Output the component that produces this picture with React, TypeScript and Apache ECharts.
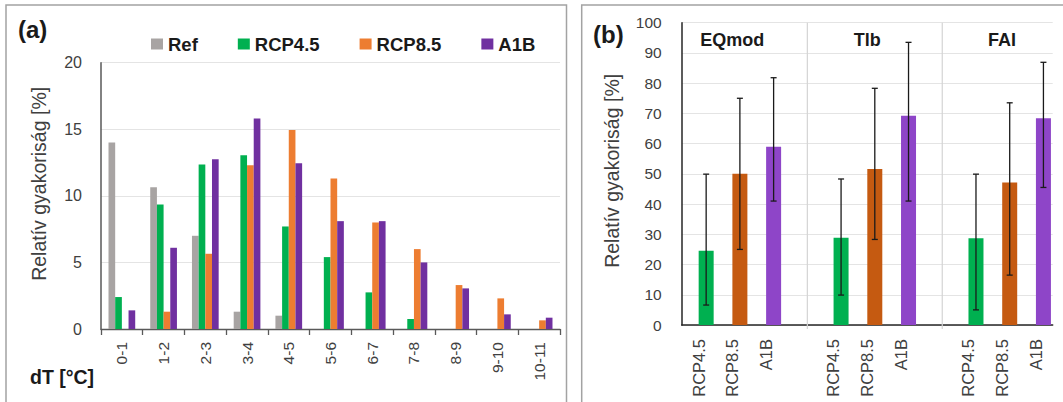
import React, { useEffect, useRef } from 'react';
import * as echarts from 'echarts';

// ---------- Panel (a) data ----------
const dTCategories = ['0-1', '1-2', '2-3', '3-4', '4-5', '5-6', '6-7', '7-8', '8-9', '9-10', '10-11'];
const refValues = [14.0, 10.65, 7.0, 1.3, 1.0, 0, 0, 0, 0, 0, 0];
const rcp45Values = [2.4, 9.35, 12.35, 13.05, 7.7, 5.4, 2.75, 0.75, 0, 0, 0];
const rcp85Values = [0, 1.3, 5.65, 12.3, 14.95, 11.3, 8.0, 6.0, 3.3, 2.3, 0.65];
const a1bValues = [1.4, 6.1, 12.75, 15.8, 12.45, 8.1, 8.1, 5.0, 3.05, 1.1, 0.85];
const leftSeriesNames = ['Ref', 'RCP4.5', 'RCP8.5', 'A1B'];
const leftAxisMin = 0;
const leftAxisMax = 20;
const leftAxisStep = 5;

// ---------- Panel (b) data ----------
const indexGroups = ['EQmod', 'Tlb', 'FAI'];
const scenarios = ['RCP4.5', 'RCP8.5', 'A1B'];
const meanRCP45 = [24.6, 28.9, 28.7];
const meanRCP85 = [50.0, 51.6, 47.1];
const meanA1B = [59.0, 69.2, 68.4];
const lowRCP45 = [6.6, 9.9, 5.0];
const highRCP45 = [49.9, 48.3, 49.9];
const lowRCP85 = [25.0, 28.3, 16.5];
const highRCP85 = [75.0, 78.3, 73.5];
const lowA1B = [41.0, 41.0, 45.5];
const highA1B = [81.8, 93.5, 86.9];
const rightAxisMin = 0;
const rightAxisMax = 100;
const rightAxisStep = 10;

// ---------- styles ----------
const FONT = 'Liberation Sans, Arial, sans-serif';
const leftColors = ['#a8a4a3', '#00b050', '#ed7d31', '#7030a0'];
const rightColors = ['#00b050', '#c55a11', '#8e45c8'];
const RIGHT_BAR_W = 15;
const RIGHT_BAR_GAP = 0.013;
const SHIFT = (RIGHT_BAR_W * (1 + RIGHT_BAR_GAP)) / 2;

// build slot layout for panel (b): 3 scenarios per group, one blank slot between groups
const slotLabels: string[] = [];
const groupLabels: string[] = [];
const slotOf: number[][] = [];
indexGroups.forEach((g, gi) => {
  slotOf.push([]);
  scenarios.forEach((s, si) => {
    slotOf[gi].push(slotLabels.length);
    slotLabels.push(s);
    groupLabels.push(si === 1 ? g : '');
  });
  if (gi < indexGroups.length - 1) {
    slotLabels.push('');
    groupLabels.push('');
  }
});
const separatorSlots = indexGroups.slice(0, -1).map((_, gi) => [slotOf[gi][2] + 1]);

const means = [meanRCP45, meanRCP85, meanA1B];
const lows = [lowRCP45, lowRCP85, lowA1B];
const highs = [highRCP45, highRCP85, highA1B];

const rightBarSeries = scenarios.map((s, si) => {
  const data: (number | string)[] = slotLabels.map(() => '-');
  indexGroups.forEach((_, gi) => {
    data[slotOf[gi][si]] = means[si][gi];
  });
  return {
    name: 'b ' + s,
    type: 'bar',
    xAxisIndex: 1,
    yAxisIndex: 1,
    stack: 'b',
    barWidth: RIGHT_BAR_W,
    barGap: (RIGHT_BAR_GAP * 100).toFixed(1) + '%',
    itemStyle: { color: rightColors[si] },
    data,
  };
});

const errorData: number[][] = [];
scenarios.forEach((_, si) => {
  indexGroups.forEach((__, gi) => {
    errorData.push([slotOf[gi][si], lows[si][gi], highs[si][gi]]);
  });
});

const leftValues = [refValues, rcp45Values, rcp85Values, a1bValues];

const axisLabelBase = { fontFamily: FONT, color: '#404040' };

const option: any = {
  animation: false,
  backgroundColor: '#ffffff',
  textStyle: { fontFamily: FONT },
  legend: {
    data: leftSeriesNames,
    left: 146,
    top: 29,
    itemWidth: 12,
    itemHeight: 11,
    itemGap: 40,
    icon: 'rect',
    selectedMode: false,
    textStyle: { fontFamily: FONT, fontSize: 18.5, fontWeight: 'bold', color: '#1a1a1a', lineHeight: 20 },
  },
  grid: [
    { left: 101, top: 62.7, width: 459, height: 266.3, containLabel: false },
    { left: 681.7, top: 22.7, width: 371, height: 302.3, containLabel: false },
  ],
  xAxis: [
    {
      type: 'category',
      gridIndex: 0,
      data: dTCategories,
      axisLine: { lineStyle: { color: '#595959', width: 1.3 } },
      axisTick: { show: true, length: 6, interval: 0, lineStyle: { color: '#595959', width: 1.3 } },
      axisLabel: { ...axisLabelBase, rotate: 90, fontSize: 15.5, margin: 13, interval: 0 },
      splitLine: { show: false },
    },
    {
      type: 'category',
      gridIndex: 1,
      data: slotLabels,
      axisLine: { lineStyle: { color: '#262626', width: 1.5 } },
      axisTick: { show: false },
      axisLabel: { ...axisLabelBase, rotate: 90, fontSize: 16.5, margin: 14, interval: 0 },
      splitLine: { show: false },
    },
    {
      type: 'category',
      gridIndex: 1,
      position: 'top',
      data: groupLabels,
      axisLine: { show: false },
      axisTick: { show: false },
      axisLabel: {
        inside: true,
        interval: 0,
        margin: 8,
        fontFamily: FONT,
        fontSize: 18,
        fontWeight: 'bold',
        color: '#1a1a1a',
      },
      splitLine: { show: false },
    },
  ],
  yAxis: [
    {
      type: 'value',
      gridIndex: 0,
      min: leftAxisMin,
      max: leftAxisMax,
      interval: leftAxisStep,
      name: 'Relatív gyakoriság [%]',
      nameLocation: 'middle',
      nameGap: 52,
      nameTextStyle: { fontFamily: FONT, fontSize: 19.5, color: '#404040', padding: [0, 0, 0, 24] },
      axisLine: { show: true, lineStyle: { color: '#595959', width: 1.5 } },
      axisTick: { show: false },
      axisLabel: { ...axisLabelBase, fontSize: 16, margin: 19 },
      splitLine: { show: true, lineStyle: { color: '#e4e4e4', width: 1 } },
    },
    {
      type: 'value',
      gridIndex: 1,
      min: rightAxisMin,
      max: rightAxisMax,
      interval: rightAxisStep,
      name: 'Relatív gyakoriság [%]',
      nameLocation: 'middle',
      nameGap: 60,
      nameTextStyle: { fontFamily: FONT, fontSize: 19.5, color: '#404040', padding: [0, 0, 0, 6] },
      axisLine: { show: true, lineStyle: { color: '#262626', width: 1.5 } },
      axisTick: { show: false },
      axisLabel: { ...axisLabelBase, fontSize: 15.5, margin: 20 },
      splitLine: { show: true, lineStyle: { color: '#e4e4e4', width: 1 } },
    },
  ],
  series: [
    ...leftSeriesNames.map((n, i) => ({
      name: n,
      type: 'bar',
      xAxisIndex: 0,
      yAxisIndex: 0,
      barGap: '0%',
      barCategoryGap: '36%',
      itemStyle: { color: leftColors[i] },
      data: leftValues[i],
    })),
    {
      name: 'b phantom',
      type: 'bar',
      xAxisIndex: 1,
      yAxisIndex: 1,
      barWidth: RIGHT_BAR_W,
      barGap: (RIGHT_BAR_GAP * 100).toFixed(1) + '%',
      data: slotLabels.map(() => '-'),
      silent: true,
    },
    ...rightBarSeries,
    {
      name: 'b separators',
      type: 'custom',
      xAxisIndex: 1,
      yAxisIndex: 1,
      silent: true,
      z: 1,
      encode: { x: 0 },
      data: separatorSlots,
      renderItem: (params: any, api: any) => {
        const xi = api.value(0);
        const top = api.coord([xi, rightAxisMax]);
        const bot = api.coord([xi, rightAxisMin]);
        const x = top[0] + SHIFT;
        return {
          type: 'line',
          shape: { x1: x, y1: top[1], x2: x, y2: bot[1] + 4 },
          style: { stroke: '#d4d4d4', lineWidth: 1.2 },
        };
      },
    },
    {
      name: 'b errors',
      type: 'custom',
      xAxisIndex: 1,
      yAxisIndex: 1,
      silent: true,
      z: 5,
      encode: { x: 0, y: [1, 2] },
      data: errorData,
      renderItem: (params: any, api: any) => {
        const xi = api.value(0);
        const pLo = api.coord([xi, api.value(1)]);
        const pHi = api.coord([xi, api.value(2)]);
        const x = pLo[0] + SHIFT;
        const cap = 3;
        const st = { stroke: '#1a1a1a', lineWidth: 1.3 };
        return {
          type: 'group',
          children: [
            { type: 'line', shape: { x1: x, y1: pHi[1], x2: x, y2: pLo[1] }, style: st },
            { type: 'line', shape: { x1: x - cap, y1: pHi[1], x2: x + cap, y2: pHi[1] }, style: st },
            { type: 'line', shape: { x1: x - cap, y1: pLo[1], x2: x + cap, y2: pLo[1] }, style: st },
          ],
        };
      },
    },
  ],
  graphic: [
    {
      type: 'rect',
      silent: true,
      shape: { x: 6, y: 5, width: 560.5, height: 420 },
      style: { fill: 'none', stroke: '#a3a3a3', lineWidth: 1.5 },
    },
    {
      type: 'rect',
      silent: true,
      shape: { x: 581.7, y: 5, width: 520, height: 420 },
      style: { fill: 'none', stroke: '#a3a3a3', lineWidth: 1.5 },
    },
    {
      type: 'text',
      left: 18,
      top: 17,
      style: { text: '(a)', font: `bold 24px ${FONT}`, fill: '#1a1a1a' },
    },
    {
      type: 'text',
      left: 593,
      top: 22.5,
      style: { text: '(b)', font: `bold 24px ${FONT}`, fill: '#1a1a1a' },
    },
    {
      type: 'text',
      left: 30,
      top: 367,
      style: { text: 'dT [°C]', font: `bold 19.5px ${FONT}`, fill: '#1a1a1a' },
    },
  ],
};

export default function App() {
  const ref = useRef<HTMLDivElement>(null);
  useEffect(() => {
    const chart = echarts.init(ref.current as HTMLDivElement, null, { renderer: 'svg' });
    chart.setOption(option);
    return () => chart.dispose();
  }, []);
  return (
    <div
      ref={ref}
      style={{ position: 'absolute', left: 0, top: 0, width: 1063, height: 402, background: '#ffffff' }}
    />
  );
}
